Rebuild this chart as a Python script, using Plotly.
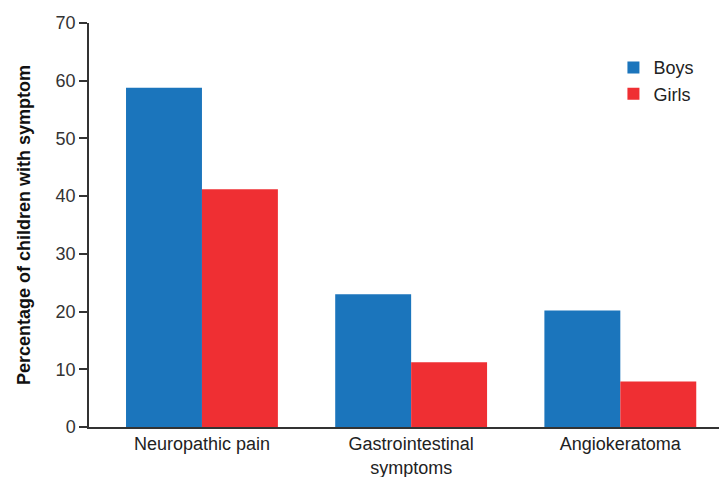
import plotly.graph_objects as go

categories = ["Neuropathic pain", "Gastrointestinal<br>symptoms", "Angiokeratoma"]
boys = [58.8, 23.0, 20.2]
girls = [41.2, 11.2, 7.9]
y_ticks = [0, 10, 20, 30, 40, 50, 60, 70]

font_family = "Liberation Sans, Arial, sans-serif"

fig = go.Figure()
fig.add_trace(go.Bar(x=categories, y=boys, name="Boys", marker=dict(color="#1b75bc", line=dict(width=0))))
fig.add_trace(go.Bar(x=categories, y=girls, name="Girls", marker=dict(color="#ef2f33", line=dict(width=0))))

fig.update_layout(
    width=727, height=477,
    margin=dict(l=81, r=8, t=15, b=58),
    paper_bgcolor="white", plot_bgcolor="white",
    barmode="group", bargap=0.274, bargroupgap=0,
    font=dict(family=font_family, size=18, color="#222"),
    showlegend=True,
    legend=dict(x=0.822, y=0.935, xanchor="left", yanchor="top",
                font=dict(size=18, color="#222"),
                bgcolor="rgba(0,0,0,0)"),
    xaxis=dict(
        type="category", range=[-0.54, 2.51], automargin=False,
        showline=True, linecolor="#333", linewidth=1.5,
        ticks="", showgrid=False, zeroline=False,
        tickfont=dict(size=18, color="#222"),
    ),
    yaxis=dict(
        range=[0, 70], tickvals=y_ticks, automargin=False,
        showline=True, linecolor="#333", linewidth=1.5,
        ticks="outside", ticklen=8, tickcolor="#333", tickwidth=1.5,
        showgrid=False, zeroline=False,
        tickfont=dict(size=18, color="#333"),
        title=dict(text="<b>Percentage of children with symptom</b>",
                   font=dict(size=18, color="#111"), standoff=20),
    ),
)

fig.write_html("out.html")
